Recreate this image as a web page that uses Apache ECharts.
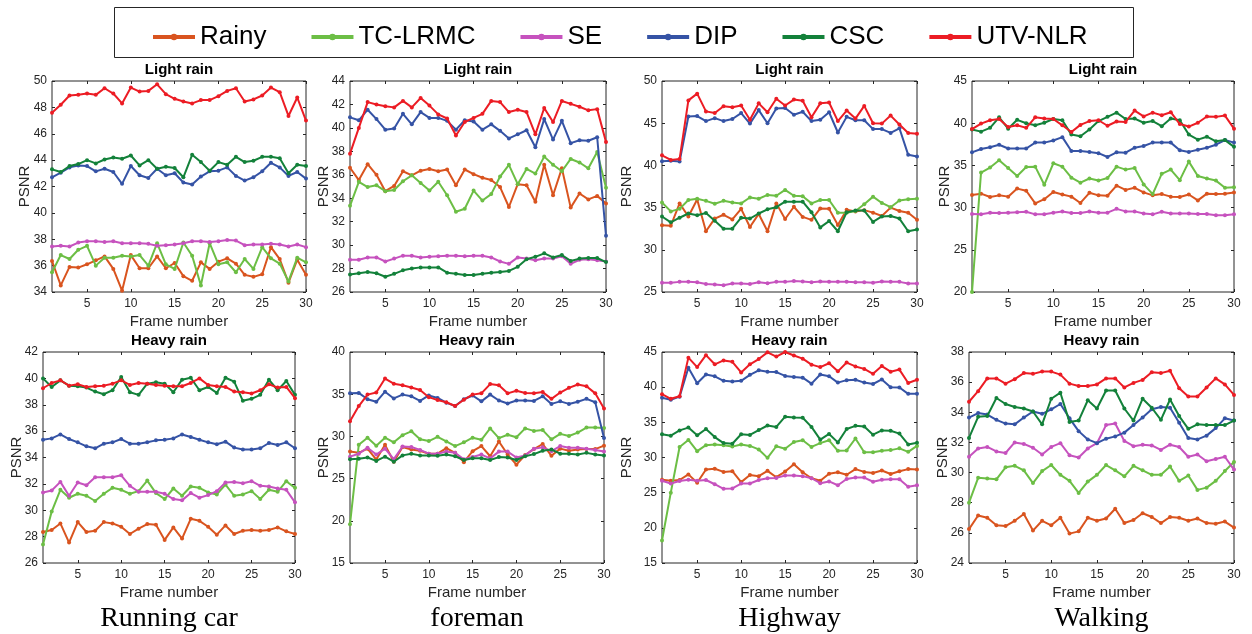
<!DOCTYPE html>
<html><head><meta charset="utf-8">
<script src="https://cdn.jsdelivr.net/npm/echarts@6/dist/echarts.min.js"></script>
<style>html,body{margin:0;padding:0;background:#fff}#c{width:1252px;height:634px}</style>
</head><body><div id="c"></div>
<script>
const FRAMES = [1,2,3,4,5,6,7,8,9,10,11,12,13,14,15,16,17,18,19,20,21,22,23,24,25,26,27,28,29,30];
const X_TICKS = [5,10,15,20,25,30];
const SERIES_NAMES = ['Rainy','TC-LRMC','SE','DIP','CSC','UTV-NLR'];
const SERIES_COLORS = ['#D9541F','#6CBE45','#C652BE','#3553A5','#13813A','#EC1C24'];
const SEQUENCES = ['Running car','foreman','Highway','Walking'];
const RAIN_TITLES = ['Light rain','Heavy rain'];

// y tick labels per panel
const Y_TICKS_RC_L = [34,36,38,40,42,44,46,48,50];
const Y_TICKS_FM_L = [26,28,30,32,34,36,38,40,42,44];
const Y_TICKS_HW_L = [25,30,35,40,45,50];
const Y_TICKS_WK_L = [20,25,30,35,40,45];
const Y_TICKS_RC_H = [26,28,30,32,34,36,38,40,42];
const Y_TICKS_FM_H = [15,20,25,30,35,40];
const Y_TICKS_HW_H = [15,20,25,30,35,40,45];
const Y_TICKS_WK_H = [24,26,28,30,32,34,36,38];

// Running car, light rain
const RC_L_RAINY = [36.35,34.5,35.9,35.85,36.1,36.4,36.7,35.75,34.1,36.8,35.8,35.8,36.7,35.8,36.2,35.2,34.85,36.25,35.75,36.3,36.55,36.15,35.3,35.15,35.35,37.4,36.5,34.7,36.45,35.3];
const RC_L_TC = [35.5,36.8,36.5,37.2,37.5,36.0,36.6,36.6,36.75,36.7,36.8,36.0,37.7,36.1,35.75,37.75,36.75,34.5,37.7,36.1,36.25,35.5,36.5,35.75,37.4,36.55,36.15,34.8,36.6,36.25];
const RC_L_SE = [37.45,37.5,37.45,37.75,37.85,37.85,37.8,37.85,37.7,37.7,37.7,37.65,37.5,37.55,37.6,37.7,37.85,37.85,37.8,37.85,37.95,37.9,37.55,37.6,37.6,37.65,37.6,37.45,37.6,37.4];
const RC_L_DIP = [42.7,43.05,43.45,43.6,43.55,43.15,43.35,43.1,42.2,43.55,42.85,42.65,43.35,42.85,43.0,42.3,42.15,42.75,43.15,43.2,43.45,42.8,42.45,42.7,43.15,43.8,43.45,42.8,43.1,42.6];
const RC_L_CSC = [43.3,43.1,43.55,43.7,44.0,43.75,44.05,44.2,44.1,44.35,43.6,44.0,43.35,43.5,43.4,42.7,44.4,43.85,43.2,43.85,43.65,44.25,43.85,43.95,44.25,44.25,44.15,43.0,43.65,43.55];
const RC_L_UTV = [47.6,48.2,48.9,48.95,49.05,48.95,49.45,49.05,48.3,49.5,49.2,49.25,49.75,49.0,48.65,48.45,48.3,48.55,48.55,48.85,49.25,49.45,48.45,48.6,48.9,49.5,49.15,47.35,48.75,47.0];

// foreman, light rain
const FM_L_RAINY = [36.6,35.55,36.9,36.0,34.6,35.05,36.3,35.95,36.35,36.5,36.3,36.45,35.1,36.45,36.05,35.75,35.55,34.95,33.25,35.2,35.1,33.7,36.85,34.25,36.55,33.2,34.4,33.9,34.2,33.55];
const FM_L_TC = [33.35,35.4,34.95,35.1,34.6,34.7,35.45,35.95,35.3,34.65,35.4,34.25,32.85,33.1,34.65,33.8,34.35,35.85,36.85,35.2,36.5,36.1,37.55,36.85,36.3,37.35,37.05,36.55,37.95,34.9];
const FM_L_SE = [28.75,28.75,28.95,28.95,28.6,28.85,29.1,29.1,28.95,29.0,29.05,29.1,29.1,29.05,29.1,29.1,28.95,28.6,28.4,28.95,28.85,28.7,28.85,28.85,29.05,28.4,28.75,28.8,28.7,28.6];
const FM_L_DIP = [40.9,40.65,41.55,40.75,39.85,39.95,41.2,40.3,41.35,40.85,40.85,40.6,39.85,40.65,40.55,39.85,40.3,39.75,39.1,39.45,39.8,38.35,40.75,39.0,40.6,38.7,38.95,38.9,39.2,30.8];
const FM_L_CSC = [27.5,27.6,27.7,27.6,27.3,27.55,27.85,28.0,28.1,28.1,28.1,27.65,27.55,27.45,27.45,27.55,27.65,27.7,27.8,28.15,28.8,29.0,29.3,28.95,29.15,28.65,28.85,28.9,28.9,28.55];
const FM_L_UTV = [37.8,40.0,42.2,42.0,41.85,41.75,42.3,41.75,42.55,41.9,41.15,40.8,39.35,40.5,40.85,41.2,42.3,42.2,41.35,41.55,41.35,39.45,41.7,40.5,42.3,42.05,41.8,41.5,41.6,38.8];

// Highway, light rain
const HW_L_RAINY = [32.9,32.85,35.5,33.95,35.95,32.2,33.7,34.15,33.6,34.85,32.7,34.25,32.2,35.5,33.65,35.1,33.9,33.55,34.9,34.85,32.95,34.75,34.55,34.7,34.4,34.0,35.0,34.6,34.4,33.55];
const HW_L_TC = [35.6,34.55,34.85,35.9,36.05,35.8,35.45,35.8,35.6,35.5,36.2,36.05,36.5,36.4,37.1,36.4,36.35,35.5,35.9,35.9,34.4,34.4,34.6,35.4,36.3,35.55,35.05,35.85,36.0,36.05];
const HW_L_SE = [26.1,26.1,26.2,26.2,26.15,25.95,25.9,25.8,26.0,26.0,25.95,26.15,26.05,26.2,26.2,26.3,26.25,26.15,26.25,26.2,26.2,26.2,26.15,26.15,26.1,26.25,26.2,26.2,26.0,26.0];
const HW_L_DIP = [40.5,40.55,40.45,45.8,45.85,45.25,45.6,45.25,45.5,46.2,44.95,46.55,45.0,46.75,46.8,46.0,46.35,45.25,45.4,46.3,43.9,45.75,45.35,45.35,44.3,44.3,43.85,44.4,41.25,41.05];
const HW_L_CSC = [33.95,33.25,33.8,34.3,34.1,34.35,33.45,32.5,32.5,33.8,33.7,34.3,34.8,35.05,35.7,35.7,35.7,34.45,32.65,33.4,32.2,34.45,34.65,34.65,33.3,33.95,34.0,33.7,32.2,32.4];
const HW_L_UTV = [41.2,40.65,40.75,47.7,48.5,46.4,46.2,47.0,46.9,47.1,45.4,47.35,46.3,47.9,47.1,47.8,47.65,45.7,47.35,47.45,45.25,46.5,45.55,47.05,45.0,44.95,45.9,44.85,43.85,43.75];

// Walking, light rain
const WK_L_RAINY = [31.5,31.65,31.25,31.45,31.3,32.25,32.0,30.5,31.0,31.85,31.55,31.3,30.55,31.75,31.45,31.4,32.6,32.1,32.35,31.8,31.45,31.6,31.3,31.25,31.55,30.85,31.65,31.6,31.65,31.8];
const WK_L_TC = [20.0,34.15,34.75,35.6,34.7,33.75,34.8,34.85,32.7,35.25,34.85,33.55,32.95,33.45,33.2,33.5,34.85,34.5,34.7,32.75,31.6,34.0,34.5,33.25,35.45,33.75,33.45,33.2,32.35,32.4];
const WK_L_SE = [29.25,29.2,29.4,29.35,29.4,29.45,29.5,29.2,29.2,29.4,29.55,29.35,29.35,29.55,29.4,29.4,29.85,29.55,29.55,29.3,29.2,29.5,29.3,29.3,29.3,29.25,29.25,29.1,29.1,29.2];
const WK_L_DIP = [36.55,36.95,37.15,37.45,37.0,37.0,37.0,37.7,37.7,37.95,38.35,36.7,36.7,36.6,36.45,36.0,36.55,36.5,37.1,37.3,37.7,37.7,37.7,36.8,36.6,36.85,37.1,37.45,38.0,37.7];
const WK_L_CSC = [39.25,39.0,39.45,40.7,39.35,40.4,40.0,39.75,40.05,40.5,40.35,38.65,38.45,39.25,40.25,40.75,41.25,40.5,40.55,40.05,40.25,39.65,40.55,40.35,38.65,38.05,38.4,37.85,38.0,37.2];
const WK_L_UTV = [39.3,39.95,40.35,40.5,39.55,39.75,39.45,40.7,40.55,40.5,39.75,38.95,39.8,40.25,40.35,39.7,40.2,40.15,41.5,40.8,41.25,40.95,41.3,39.9,39.6,40.05,40.8,40.75,40.9,39.35];

// Running car, heavy rain
const RC_H_RAINY = [28.35,28.5,29.0,27.55,29.1,28.35,28.45,29.1,29.0,28.75,28.2,28.6,28.95,28.9,27.75,28.7,27.85,29.35,29.2,28.75,28.15,28.85,28.2,28.45,28.5,28.45,28.5,28.7,28.4,28.2];
const RC_H_TC = [27.4,29.9,31.55,30.95,31.25,31.1,30.7,31.25,31.7,31.55,31.25,31.45,32.25,31.3,30.85,31.65,31.1,31.8,31.7,31.35,31.2,31.95,31.1,31.2,31.45,30.85,31.55,31.4,32.2,31.7];
const RC_H_SE = [31.35,31.5,32.15,31.1,32.1,31.9,32.5,32.5,32.5,32.65,31.85,31.4,31.4,31.4,31.25,30.85,30.75,31.3,30.95,31.15,31.45,32.1,32.15,32.05,32.2,31.85,31.8,31.65,31.55,30.6];
const RC_H_DIP = [35.35,35.45,35.75,35.4,35.15,34.85,34.7,35.05,35.15,35.4,35.05,35.05,35.15,35.3,35.35,35.45,35.75,35.55,35.35,35.15,35.0,35.2,34.75,34.6,34.6,34.7,35.1,34.95,35.15,34.7];
const RC_H_CSC = [40.0,39.35,39.85,39.45,39.4,39.3,39.0,38.8,39.1,40.1,38.95,38.75,39.6,39.7,39.6,38.95,39.9,40.05,39.1,39.35,38.9,40.05,39.75,38.3,38.45,38.75,39.9,39.1,39.8,38.75];
const RC_H_UTV = [39.25,39.65,39.85,39.45,39.55,39.35,39.4,39.45,39.6,39.85,39.5,39.65,39.6,39.5,39.45,39.4,39.4,39.65,40.0,39.5,39.4,39.35,39.0,38.95,38.85,39.1,39.55,39.3,39.35,38.5];

// foreman, heavy rain
const FM_H_RAINY = [28.2,28.05,28.55,27.25,29.0,27.0,28.75,28.45,28.3,27.95,27.95,28.6,28.05,26.95,28.25,28.85,27.65,29.4,27.85,26.65,27.8,28.5,29.1,27.7,28.55,28.3,28.45,28.5,28.5,28.9];
const FM_H_TC = [19.6,29.0,29.85,28.9,29.85,29.3,30.15,30.6,29.65,29.45,29.95,29.4,28.85,29.3,29.85,29.6,30.95,29.8,30.2,29.9,30.95,30.65,30.75,29.65,30.3,30.05,30.45,31.05,31.05,31.0];
const FM_H_SE = [27.6,27.95,28.65,27.85,28.55,27.3,28.8,28.75,28.4,27.95,27.95,28.2,28.05,27.3,27.55,27.85,27.4,28.2,28.2,27.5,27.75,28.55,28.7,28.25,28.85,28.65,28.65,28.55,28.4,28.2];
const FM_H_DIP = [35.1,35.15,34.4,34.1,35.3,34.5,34.95,34.75,34.2,34.85,34.55,34.0,33.6,34.4,34.85,34.15,34.95,34.25,33.9,34.25,34.25,34.2,34.75,33.85,34.15,33.85,34.1,34.45,34.05,29.8];
const FM_H_CSC = [27.3,27.35,27.5,27.1,27.6,27.0,27.75,27.95,27.75,27.75,27.7,27.85,27.65,27.2,27.4,27.4,27.2,27.55,27.5,27.2,27.65,27.9,28.3,28.45,27.95,27.95,27.85,28.05,27.85,27.75];
const FM_H_UTV = [31.8,33.6,34.95,35.2,36.85,36.25,36.05,35.8,35.5,34.65,34.3,34.05,33.6,34.35,34.95,35.1,36.2,36.05,35.1,35.4,35.15,35.1,35.25,34.45,35.2,35.75,36.15,35.95,35.1,33.3];

// Highway, heavy rain
const HW_H_RAINY = [26.85,26.7,26.8,27.6,26.4,28.3,28.4,27.95,28.05,26.5,27.5,27.35,28.1,27.2,28.0,29.05,27.9,27.05,26.7,27.7,27.9,27.55,28.35,27.95,27.8,28.15,27.65,28.05,28.35,28.3];
const HW_H_TC = [18.2,25.0,31.5,32.5,30.9,31.75,31.85,31.75,31.55,31.85,31.65,31.15,29.95,31.6,31.25,32.2,32.45,31.5,32.05,32.45,30.95,31.0,32.7,30.75,30.75,30.95,31.05,31.3,30.8,31.65];
const HW_H_SE = [26.7,26.3,26.65,26.85,26.7,26.8,26.2,25.55,25.6,26.3,26.3,26.8,27.05,27.1,27.45,27.45,27.35,27.05,26.35,26.6,26.05,26.95,27.15,27.15,26.55,26.85,26.9,26.9,25.85,26.05];
const HW_H_DIP = [38.5,38.2,38.65,42.75,40.55,41.8,41.55,40.9,40.8,40.9,41.75,42.4,42.2,42.15,41.6,41.45,41.35,40.5,41.8,41.55,40.65,41.0,41.05,40.65,40.45,41.1,40.0,39.95,39.05,39.05];
const HW_H_CSC = [33.3,33.1,33.85,34.25,33.15,34.05,32.9,32.05,31.95,33.3,33.2,33.9,34.55,34.35,35.8,35.7,35.65,34.35,32.55,33.35,32.15,34.05,34.5,34.4,33.25,33.85,33.8,33.4,31.85,32.1];
const HW_H_UTV = [39.0,38.35,38.7,44.2,42.85,44.55,43.25,43.8,43.6,42.1,43.25,44.0,44.95,44.35,45.0,44.5,44.05,43.2,42.85,43.4,42.25,43.5,42.95,42.6,41.9,43.0,42.2,42.5,40.6,41.05];

// Walking, heavy rain
const WK_H_RAINY = [26.25,27.15,27.0,26.5,26.45,26.8,27.25,26.15,26.8,26.5,27.0,25.95,26.1,27.0,26.8,26.95,27.6,26.65,26.85,27.3,27.05,26.65,27.05,27.0,26.8,26.95,26.65,26.6,26.75,26.35];
const WK_H_TC = [28.0,29.65,29.6,29.55,30.35,30.45,30.15,29.3,30.1,30.5,29.85,29.45,28.65,29.4,29.85,30.5,30.15,29.75,30.45,30.15,29.85,29.85,30.4,29.45,29.8,28.85,29.0,29.45,30.1,30.7];
const WK_H_SE = [31.05,31.6,31.7,31.4,31.3,32.0,31.9,31.65,31.2,31.7,31.95,31.15,31.0,31.6,31.95,33.15,33.25,32.1,31.75,31.85,31.8,31.5,31.85,31.7,31.05,31.2,30.75,30.9,31.05,30.2];
const WK_H_DIP = [33.65,33.95,33.85,33.5,33.25,33.2,33.65,34.05,33.9,34.2,34.55,33.6,32.75,32.2,31.95,32.25,32.4,32.65,33.15,33.65,34.2,34.35,34.3,33.3,32.3,32.2,32.45,32.95,33.6,33.45];
const WK_H_CSC = [32.3,33.7,33.75,34.95,34.55,34.35,34.25,34.05,33.2,34.9,35.3,33.35,33.45,34.8,34.25,35.45,35.45,34.25,33.45,34.9,34.3,33.5,34.85,33.75,32.9,33.2,33.15,33.15,33.15,33.45];
const WK_H_UTV = [34.7,35.4,36.25,36.25,35.9,36.2,36.6,36.55,36.7,36.7,36.5,35.9,35.75,35.75,35.85,36.25,36.25,35.65,35.95,36.15,36.65,36.6,36.75,35.6,35.05,35.05,35.65,36.25,35.85,35.15];

// ---------- build ----------
const panels = [
  {row:0, col:0, yTicks:Y_TICKS_RC_L, series:[RC_L_RAINY,RC_L_TC,RC_L_SE,RC_L_DIP,RC_L_CSC,RC_L_UTV]},
  {row:0, col:1, yTicks:Y_TICKS_FM_L, series:[FM_L_RAINY,FM_L_TC,FM_L_SE,FM_L_DIP,FM_L_CSC,FM_L_UTV]},
  {row:0, col:2, yTicks:Y_TICKS_HW_L, series:[HW_L_RAINY,HW_L_TC,HW_L_SE,HW_L_DIP,HW_L_CSC,HW_L_UTV]},
  {row:0, col:3, yTicks:Y_TICKS_WK_L, series:[WK_L_RAINY,WK_L_TC,WK_L_SE,WK_L_DIP,WK_L_CSC,WK_L_UTV]},
  {row:1, col:0, yTicks:Y_TICKS_RC_H, series:[RC_H_RAINY,RC_H_TC,RC_H_SE,RC_H_DIP,RC_H_CSC,RC_H_UTV]},
  {row:1, col:1, yTicks:Y_TICKS_FM_H, series:[FM_H_RAINY,FM_H_TC,FM_H_SE,FM_H_DIP,FM_H_CSC,FM_H_UTV]},
  {row:1, col:2, yTicks:Y_TICKS_HW_H, series:[HW_H_RAINY,HW_H_TC,HW_H_SE,HW_H_DIP,HW_H_CSC,HW_H_UTV]},
  {row:1, col:3, yTicks:Y_TICKS_WK_H, series:[WK_H_RAINY,WK_H_TC,WK_H_SE,WK_H_DIP,WK_H_CSC,WK_H_UTV]}
];

// layout (pixel boxes)
const BOXES = [
  [52,81,306,292],[350,81,606,292],[662,81,917,292],[972,81,1234,292],
  [43,352,295,563],[350,352,604,563],[662,352,917,563],[969,352,1234,563]
];
const NAME_GAPS = [20,19,28,20, 19,19,28,19];

const FONT = 'Liberation Sans, Arial, Helvetica, sans-serif';
const AX = '#262626';

const grid = [], xAxis = [], yAxis = [], series = [], graphic = [];

graphic.push({type:'rect', shape:{x:114.5, y:7.5, width:1019, height:50}, style:{fill:'#fff', stroke:AX, lineWidth:1}, z:-10});

panels.forEach((p, i) => {
  const [l,t,r,b] = BOXES[i];
  grid.push({left:l, top:t, width:r-l, height:b-t, show:true, borderColor:AX, borderWidth:1, backgroundColor:'#fff', containLabel:false, outerBoundsMode:'none'});
  const tickStyle = {inside:true, length:3, lineStyle:{color:AX, width:1}};
  const xBase = {type:'value', gridIndex:i, min:1, max:30, axisLine:{show:false}, splitLine:{show:false}};
  xAxis.push(Object.assign({}, xBase, {
    position:'bottom',
    axisTick:Object.assign({customValues:X_TICKS}, tickStyle),
    axisLabel:{customValues:X_TICKS, margin:6, fontSize:12, color:AX, fontFamily:FONT},
    name:'Frame number', nameLocation:'middle', nameGap:22,
    nameTextStyle:{fontSize:15, color:AX, fontFamily:FONT}
  }));
  xAxis.push(Object.assign({}, xBase, {
    position:'top',
    axisTick:Object.assign({customValues:X_TICKS}, tickStyle),
    axisLabel:{show:false}
  }));
  const yt = p.yTicks;
  const yBase = {type:'value', gridIndex:i, min:yt[0], max:yt[yt.length-1], interval:yt[1]-yt[0], axisLine:{show:false}, splitLine:{show:false}};
  yAxis.push(Object.assign({}, yBase, {
    position:'left',
    axisTick:tickStyle,
    axisLabel:{margin:5, fontSize:12, color:AX, fontFamily:FONT},
    name:'PSNR', nameLocation:'middle', nameGap:NAME_GAPS[i], nameRotate:90, nameMoveOverlap:false,
    nameTextStyle:{fontSize:15, color:AX, fontFamily:FONT}
  }));
  yAxis.push(Object.assign({}, yBase, {
    position:'right',
    axisTick:tickStyle,
    axisLabel:{show:false}
  }));
  p.series.forEach((vals, k) => {
    series.push({
      type:'line', name:SERIES_NAMES[k], xAxisIndex:2*i, yAxisIndex:2*i,
      data: FRAMES.map((f, j) => [f, vals[j]]),
      symbol:'circle', symbolSize:4, showSymbol:true,
      itemStyle:{color:SERIES_COLORS[k]},
      lineStyle:{color:SERIES_COLORS[k], width:2},
      z: 2 + k, animation:false, silent:true
    });
  });
  graphic.push({type:'text', x:(l+r)/2, y:t-11, style:{text:RAIN_TITLES[p.row], textAlign:'center', textVerticalAlign:'middle', font:'bold 15px ' + FONT, fill:'#000'}});
  if (p.row === 1) {
    graphic.push({type:'text', x:(l+r)/2, y:619, style:{text:SEQUENCES[p.col], textAlign:'center', textVerticalAlign:'middle', font:'28px "Liberation Serif", "DejaVu Serif", serif', fill:'#000'}});
  }
});

const option = {
  backgroundColor:'#fff',
  animation:false,
  legend:{
    data:SERIES_NAMES, left:146, top:19, itemWidth:42, itemHeight:8, itemGap:43,
    textStyle:{fontSize:26, color:'#000', fontFamily:FONT},
    lineStyle:{width:4}, selectedMode:false
  },
  grid, xAxis, yAxis, series, graphic
};
const chart = echarts.init(document.getElementById('c'), null, {renderer:'canvas'});
chart.setOption(option);
</script>
</body></html>
